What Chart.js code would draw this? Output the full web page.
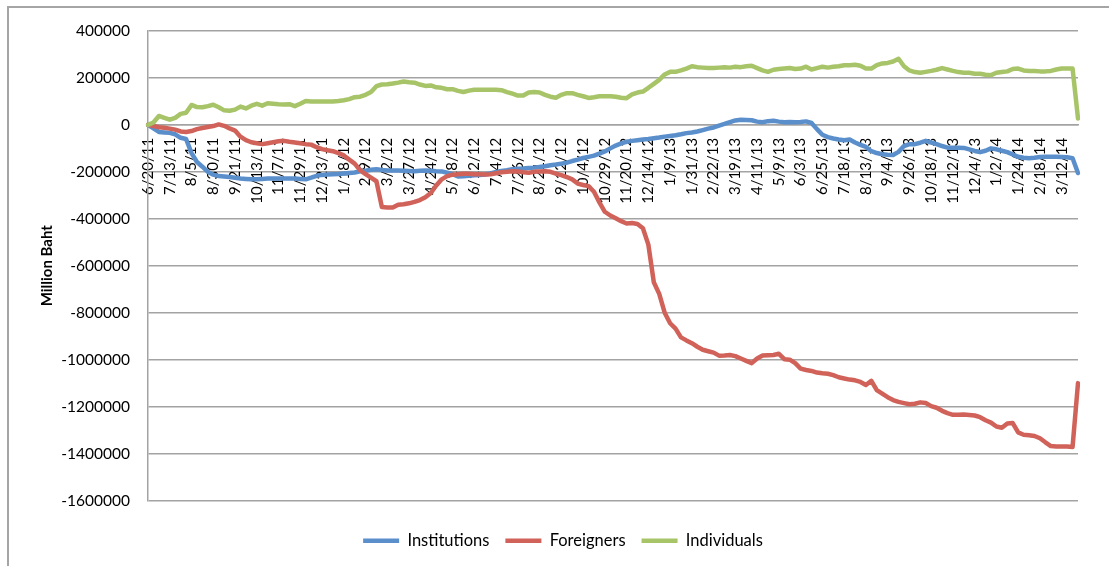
<!DOCTYPE html>
<html><head><meta charset="utf-8">
<script src="https://cdn.jsdelivr.net/npm/chart.js@4.4.1/dist/chart.umd.min.js"></script>
<style>
html,body{margin:0;padding:0;background:#fff;overflow:hidden;}
#wrap{position:relative;width:1109px;height:566px;overflow:hidden;}
#frame{position:absolute;left:7px;top:6px;width:1200px;height:700px;border:2px solid #a5a5a5;pointer-events:none;}
canvas{position:absolute;left:0;top:0;}
</style></head><body>
<div id="wrap"><canvas id="c" width="1109" height="566"></canvas><div id="frame"></div></div>
<script>
// Tick labels on the date axis (one every 4 samples)
const tickLabels = ['6/20/11','7/13/11','8/5/11','8/30/11','9/21/11','10/13/11','11/7/11','11/29/11','12/23/11',
'1/18/12','2/9/12','3/2/12','3/27/12','4/24/12','5/18/12','6/12/12','7/4/12','7/26/12','8/21/12','9/12/12','10/4/12','10/29/12','11/20/12','12/14/12',
'1/9/13','1/31/13','2/22/13','3/19/13','4/11/13','5/9/13','6/3/13','6/25/13','7/18/13','8/13/13','9/4/13','9/26/13','10/18/13','11/12/13','12/4/13',
'1/2/14','1/24/14','2/18/14','3/12/14'];
const samplesPerTick = 4;

const seriesNames = ['Institutions','Foreigners','Individuals'];

const institutions = [0,-15000,-30000,-32000,-34000,-40000,-55000,-60000,-120000,-158000,
-178000,-200000,-212000,-218000,-220000,-222000,-225000,-228000,-230000,-232000,
-232000,-230000,-228000,-228000,-228000,-228000,-228000,-228000,-230000,-232000,
-225000,-217000,-213000,-211000,-210000,-209000,-207000,-205000,-203000,-198000,
-195000,-191000,-189000,-192000,-194000,-194000,-194000,-195000,-196000,-197000,
-195000,-194000,-195000,-197000,-198000,-204000,-210000,-220000,-219000,-217000,
-215000,-213000,-211000,-207000,-200000,-196000,-193000,-189000,-187000,-186000,
-184000,-182000,-179000,-176000,-172000,-169000,-165000,-161000,-154000,-148000,
-141000,-136000,-131000,-122000,-113000,-100000,-88000,-79000,-72000,-68000,
-65000,-62000,-60000,-57000,-54000,-50000,-47000,-44000,-40000,-35000,
-32000,-28000,-22000,-16000,-11000,-3000,4000,12000,19000,22000,
21000,20000,14000,11000,16000,18000,14000,11000,12000,11000,
12000,15000,8000,-18000,-42000,-52000,-58000,-62000,-65000,-62000,
-75000,-85000,-94000,-112000,-120000,-125000,-127000,-128000,-115000,-90000,
-82000,-82000,-76000,-68000,-75000,-82000,-90000,-97000,-97000,-97000,
-98000,-104000,-111000,-116000,-110000,-100000,-104000,-110000,-116000,-126000,
-136000,-140000,-142000,-140000,-137000,-136000,-136000,-136000,-137000,-138000,
-142000,-205000];

const foreigners = [0,-5000,-10000,-12000,-16000,-20000,-28000,-30000,-26000,-18000,
-13000,-9000,-5000,2000,-4000,-15000,-24000,-50000,-65000,-74000,
-78000,-82000,-78000,-74000,-70000,-68000,-72000,-75000,-78000,-82000,
-84000,-95000,-103000,-108000,-112000,-120000,-130000,-148000,-165000,-193000,
-210000,-225000,-240000,-350000,-352000,-352000,-340000,-338000,-334000,-328000,
-320000,-308000,-290000,-258000,-232000,-218000,-212000,-210000,-208000,-208000,
-210000,-210000,-211000,-210000,-206000,-202000,-200000,-197000,-198000,-202000,
-204000,-200000,-198000,-197000,-200000,-208000,-214000,-222000,-232000,-250000,
-256000,-261000,-285000,-330000,-370000,-386000,-398000,-410000,-420000,-418000,
-422000,-440000,-510000,-670000,-720000,-800000,-845000,-868000,-905000,-918000,
-930000,-945000,-958000,-964000,-970000,-983000,-982000,-980000,-985000,-995000,
-1005000,-1015000,-995000,-982000,-981000,-980000,-975000,-998000,-1000000,-1015000,
-1038000,-1044000,-1048000,-1055000,-1058000,-1060000,-1066000,-1075000,-1080000,-1085000,
-1088000,-1095000,-1108000,-1090000,-1130000,-1145000,-1160000,-1172000,-1180000,-1185000,
-1190000,-1188000,-1182000,-1185000,-1198000,-1205000,-1218000,-1228000,-1235000,-1235000,
-1234000,-1236000,-1238000,-1245000,-1258000,-1268000,-1285000,-1290000,-1272000,-1270000,
-1310000,-1320000,-1322000,-1325000,-1335000,-1352000,-1368000,-1370000,-1370000,-1370000,
-1372000,-1100000];

const individuals = [0,10000,38000,30000,22000,30000,47000,52000,85000,76000,
75000,80000,86000,75000,62000,60000,65000,78000,70000,82000,
90000,82000,92000,90000,88000,87000,88000,80000,90000,102000,
100000,100000,100000,100000,100000,102000,105000,110000,118000,120000,
128000,140000,165000,172000,173000,176000,180000,185000,182000,180000,
172000,166000,168000,160000,158000,152000,152000,145000,140000,146000,
150000,150000,150000,150000,150000,148000,140000,133000,125000,125000,
138000,140000,138000,128000,120000,116000,128000,135000,135000,128000,
122000,115000,118000,122000,122000,122000,120000,116000,114000,130000,
138000,142000,158000,175000,192000,215000,226000,226000,232000,240000,
250000,246000,244000,242000,242000,244000,246000,244000,248000,246000,
250000,252000,242000,232000,226000,235000,238000,240000,242000,238000,
240000,248000,236000,242000,248000,244000,248000,250000,254000,254000,
256000,252000,240000,240000,255000,262000,264000,270000,282000,250000,
232000,225000,222000,226000,230000,235000,242000,236000,230000,225000,
222000,222000,218000,218000,214000,212000,222000,225000,228000,238000,
240000,232000,230000,230000,228000,228000,230000,236000,240000,240000,
240000,27000];

const yMin = -1600000, yMax = 400000, yStep = 200000;

// category labels: date label every samplesPerTick samples
const categories = institutions.map((_, i) => (i % samplesPerTick === 0 && tickLabels[i / samplesPerTick]) ? tickLabels[i / samplesPerTick] : '');

const gridColor = '#a3a3a3';
const FONT = 'Lato, "Open Sans", sans-serif';

new Chart(document.getElementById('c'), {
  type: 'line',
  data: {
    labels: categories,
    datasets: [
      {label: seriesNames[0], data: institutions, borderColor: '#5a8fcb', backgroundColor: '#5a8fcb', order: 3},
      {label: seriesNames[1], data: foreigners, borderColor: '#d0625a', backgroundColor: '#d0625a', order: 2},
      {label: seriesNames[2], data: individuals, borderColor: '#a7c468', backgroundColor: '#a7c468', order: 1}
    ].map(d => Object.assign(d, {borderWidth: 4.5, pointRadius: 0, pointHoverRadius: 0, tension: 0, fill: false,
      borderCapStyle: 'round', borderJoinStyle: 'round', pointStyle: 'line'}))
  },
  options: {
    responsive: false,
    animation: false,
    devicePixelRatio: 1,
    layout: {padding: {left: 38, right: 21, top: 31, bottom: 7}},
    scales: {
      x: {
        type: 'category',
        position: {y: 0},
        grid: {display: false, drawTicks: false},
        border: {display: true, color: gridColor, width: 1.5},
        ticks: {autoSkip: false, maxRotation: 90, minRotation: 90, padding: 13,
          font: {family: FONT, size: 15}, color: '#000'}
      },
      y: {
        type: 'linear',
        min: yMin, max: yMax,
        afterFit: (scale) => { scale.width = 110; },
        grid: {color: gridColor, lineWidth: 1.5, drawTicks: false},
        border: {display: true, color: gridColor, width: 1.5},
        ticks: {stepSize: yStep, padding: 18, font: {family: FONT, size: 15.5}, color: '#000',
          callback: (v) => String(v)},
        title: {display: true, text: 'Million Baht', color: '#000',
          font: {family: FONT, size: 15, weight: 'bold'}, padding: {top: 0, bottom: 0}}
      }
    },
    plugins: {
      legend: {
        position: 'bottom',
        title: {display: true, text: '', padding: {top: 15, bottom: 0}, font: {size: 1, lineHeight: 1}},
        labels: {font: {family: FONT, size: 16.5}, color: '#000', usePointStyle: true, pointStyleWidth: 36,
          padding: 16, sort: (a, b) => a.datasetIndex - b.datasetIndex}
      },
      tooltip: {enabled: false}
    }
  }
});
</script>
</body></html>
